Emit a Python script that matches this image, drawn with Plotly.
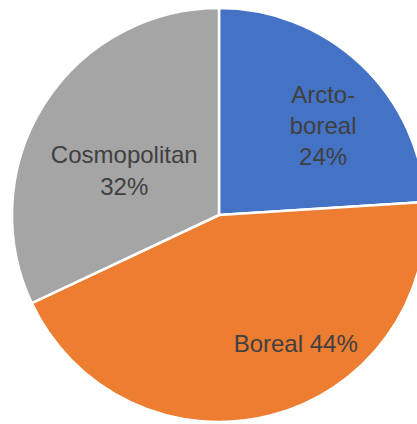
import plotly.graph_objects as go

NB = "\u00a0"
labels = ["Arcto-boreal", "Boreal", "Cosmopolitan"]
values = [24, 44, 32]
texts = [
    NB * 6 + "Arcto-<br>" + NB * 6 + "boreal<br>" + NB * 6 + "24%",
    NB + "<br>" + NB * 23 + "Boreal 44%",
    NB + "<br>Cosmopolitan<br>32%",
]
colors = ["#4472C4", "#ED7D31", "#A5A5A5"]

fig = go.Figure(go.Pie(
    labels=labels,
    values=values,
    text=texts,
    textinfo="text",
    textposition="inside",
    insidetextorientation="horizontal",
    sort=False,
    direction="clockwise",
    rotation=0,
    marker=dict(colors=colors, line=dict(color="white", width=2.5)),
    textfont=dict(family="Liberation Sans, Arial, sans-serif", size=24, color="#404040"),
    showlegend=False,
    hoverinfo="skip",
))

fig.update_layout(
    width=426, height=424,
    margin=dict(l=12, r=0, t=8, b=2),
    paper_bgcolor="white",
    plot_bgcolor="white",
    uniformtext=dict(minsize=24, mode="show"),
)

fig.write_html("out.html", config={"displayModeBar": False},
               post_script="document.body.style.overflow='hidden';document.body.style.margin='0';")
